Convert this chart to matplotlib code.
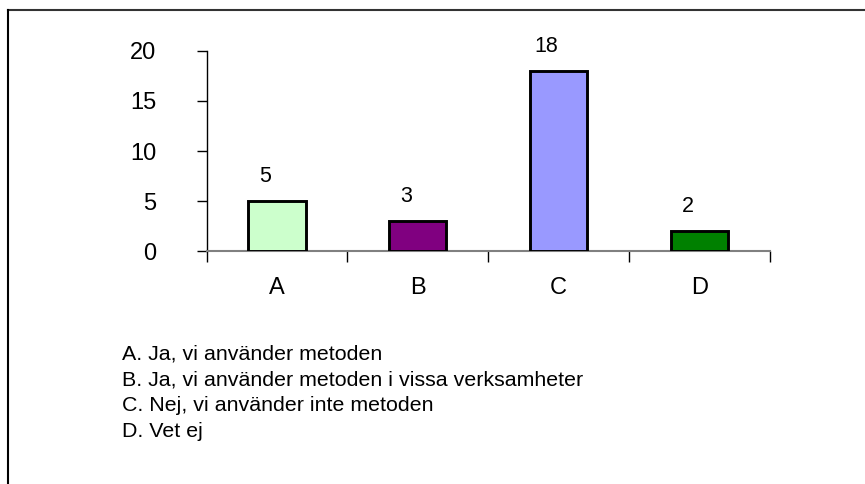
import matplotlib
matplotlib.use("Agg")
import matplotlib.pyplot as plt
from matplotlib.lines import Line2D

categories = ["A", "B", "C", "D"]
values = [5, 3, 18, 2]
colors = ["#CCFFCC", "#800080", "#9999FF", "#008000"]
legend_lines = [
    "A. Ja, vi använder metoden",
    "B. Ja, vi använder metoden i vissa verksamheter",
    "C. Nej, vi använder inte metoden",
    "D. Vet ej",
]
yticks = [0, 5, 10, 15, 20]

plt.rcParams['font.family'] = ['Liberation Sans', 'DejaVu Sans']

W, H = 865, 484
fig = plt.figure(figsize=(W / 100, H / 100), dpi=100)

# axes: x 206..770, y 0 at 251, 20 at 51
x0, x1 = 206.5, 770
y_top_px, y0_px = 51, 251
ax = fig.add_axes([x0 / W, 1 - y0_px / H, (x1 - x0) / W, (y0_px - y_top_px) / H])
ax.set_xlim(-0.5, len(categories) - 0.5)
ax.set_ylim(0, 20)

xs = list(range(len(categories)))
ax.bar(xs, values, width=0.407, color=colors, edgecolor="black", linewidth=2.1, zorder=3)
for x, v in zip(xs, values):
    ax.text(x - 0.085, v + 2.45, str(v), ha="center", va="center", fontsize=15.5)

for s in ["top", "right"]:
    ax.spines[s].set_visible(False)
ax.spines["left"].set_color("black")
ax.spines["left"].set_linewidth(1)
ax.spines["bottom"].set_color("#808080")
ax.spines["bottom"].set_linewidth(1.5)

ax.set_yticks(yticks)
ax.set_yticklabels([str(t) for t in yticks], fontsize=17)
ax.tick_params(axis="y", direction="out", length=7, width=1, pad=29)

ax.set_xticks([i - 0.5 for i in range(len(categories) + 1)])
ax.set_xticklabels([])
ax.set_xticks(xs, minor=True)
ax.set_xticklabels(categories, minor=True, fontsize=17)
ax.tick_params(axis="x", which="major", direction="out", length=8, width=1, color="black")
ax.tick_params(axis="x", which="minor", length=0, pad=19)

# legend text lines
for i, t in enumerate(legend_lines):
    fig.text(122 / W, 1 - (359 + 26 * i) / H, t, fontsize=15.4, va="baseline", ha="left")

# frame (top and left visible)
fig.add_artist(Line2D([8 / W, 1.0], [1 - 10 / H, 1 - 10 / H], color="#333333", lw=1.5, transform=fig.transFigure))
fig.add_artist(Line2D([8 / W, 8 / W], [1 - 10 / H, 0], color="black", lw=1.5, transform=fig.transFigure))

fig.savefig("out.png", dpi=100)
